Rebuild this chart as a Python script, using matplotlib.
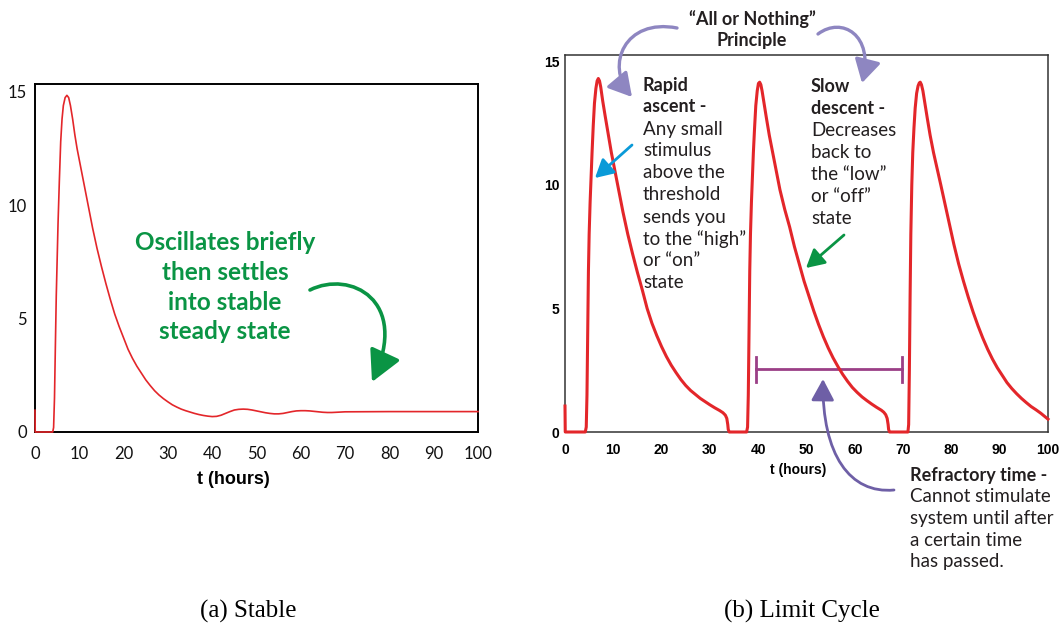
import matplotlib.pyplot as plt
from matplotlib.patches import FancyArrowPatch
from matplotlib.path import Path

# ----------------------------------------------------------
# Data
# ----------------------------------------------------------
t_stable = [0, 0.05, 4.0, 4.2, 4.4, 4.6, 4.8, 5.0, 5.2, 5.5, 5.8, 6.1, 6.4, 6.8, 7.2, 7.6,
            8.0, 8.5, 9.0, 9.5, 10, 11, 12, 13, 14, 15, 16, 17, 18, 19, 20, 21, 22, 23,
            24, 25, 26, 27, 28, 29, 30, 31, 32, 33, 34, 35, 36, 37, 38, 39, 40, 41, 42,
            43, 44, 45, 46, 47, 48, 49, 50, 51, 52, 53, 54, 55, 56, 57, 58, 59, 60, 61,
            62, 63, 64, 65, 66, 67, 68, 69, 70, 80, 100]
y_stable = [0.96, 0, 0, 0.2, 1.5, 3.8, 6.0, 7.6, 9.2, 11.1, 12.8, 13.8, 14.4, 14.75, 14.85,
            14.75, 14.4, 13.8, 13.1, 12.5, 12.0, 11.0, 10.0, 9.0, 8.1, 7.3, 6.55, 5.85,
            5.2, 4.65, 4.15, 3.65, 3.25, 2.9, 2.6, 2.3, 2.05, 1.82, 1.63, 1.47, 1.33,
            1.2, 1.1, 1.01, 0.94, 0.88, 0.82, 0.77, 0.73, 0.7, 0.68, 0.69, 0.74, 0.82,
            0.9, 0.97, 1.0, 1.01, 1.0, 0.97, 0.93, 0.89, 0.85, 0.82, 0.8, 0.8, 0.82,
            0.86, 0.9, 0.93, 0.94, 0.94, 0.93, 0.91, 0.89, 0.87, 0.86, 0.86, 0.87, 0.88,
            0.89, 0.9, 0.9]

t_limit = [0, 0.05,
           # first spike
           4.2, 4.4, 4.55, 4.7, 4.85, 5.0, 5.2, 5.4, 5.6, 5.85, 6.1, 6.4, 6.65, 6.9, 7.15,
           7.4, 7.8, 8.3, 9.0, 9.6, 10.3, 11, 12, 13, 14, 15, 16, 17, 18, 19, 20, 21, 22,
           23, 24, 25, 26, 27, 28, 29, 30, 31, 32, 32.7, 33.2, 33.5, 33.7, 33.8, 34.0,
           # second spike
           37.6, 37.8, 37.95, 38.1, 38.25, 38.4, 38.6, 38.8, 39.0, 39.25, 39.5, 39.8,
           40.05, 40.3, 40.55, 40.8, 41.2, 41.7, 42.3, 43.0, 43.7, 44.5, 45.5, 46.5,
           47.5, 48.5, 49.5, 50.5, 51.5, 52.5, 53.5, 54.5, 55.5, 56.5, 57.5, 58.5, 59.5,
           60.5, 61.5, 62.5, 63.5, 64.5, 65.5, 66.0, 66.4, 66.7, 66.9, 67.0, 67.2,
           # third spike
           71.0, 71.15, 71.3, 71.45, 71.6, 71.8, 72.0, 72.25, 72.5, 72.8, 73.1, 73.35,
           73.55, 73.8, 74.1, 74.5, 75.0, 75.6, 76.3, 77.0, 77.8, 78.7, 79.6, 80.5, 81.5,
           82.5, 83.5, 84.5, 85.5, 86.5, 87.5, 88.5, 89.5, 90.5, 91.5, 92.5, 93.5, 94.5,
           95.5, 96.5, 97.5, 98.5, 99.3, 100]
y_limit = [1.05, 0,
           0, 0.2, 1.5, 4.0, 6.5, 8.0, 9.3, 10.3, 11.3, 12.4, 13.3, 13.9, 14.2, 14.3, 14.2,
           13.95, 13.4, 12.8, 12.0, 11.3, 10.6, 9.9, 8.9, 8.0, 7.2, 6.45, 5.75, 5.0, 4.4,
           3.9, 3.45, 3.05, 2.7, 2.4, 2.12, 1.88, 1.68, 1.52, 1.36, 1.23, 1.1, 0.98, 0.87,
           0.78, 0.68, 0.55, 0.3, 0.1, 0,
           0, 0.2, 1.5, 4.0, 6.5, 8.0, 9.3, 10.3, 11.3, 12.3, 13.2, 13.8,
           14.1, 14.15, 14.05, 13.8, 13.3, 12.7, 12.0, 11.3, 10.6, 9.8, 9.0, 8.3,
           7.5, 6.8, 6.1, 5.5, 4.9, 4.35, 3.85, 3.4, 3.0, 2.65, 2.33, 2.05, 1.8,
           1.6, 1.42, 1.27, 1.13, 1.0, 0.88, 0.8, 0.7, 0.55, 0.3, 0.1, 0,
           0, 0.3, 2.5, 5.5, 8.0, 10.0, 11.3, 12.3, 13.1, 13.7, 14.0, 14.12,
           14.15, 14.05, 13.8, 13.3, 12.7, 12.0, 11.3, 10.7, 10.0, 9.2, 8.4, 7.6, 6.8,
           6.1, 5.45, 4.85, 4.3, 3.8, 3.35, 2.95, 2.6, 2.3, 2.0, 1.76, 1.55, 1.36,
           1.19, 1.03, 0.9, 0.76, 0.63, 0.52]

x_ticks = [0, 10, 20, 30, 40, 50, 60, 70, 80, 90, 100]
y_ticks = [0, 5, 10, 15]

# refractory window marked on the limit cycle panel
refractory_start, refractory_end, refractory_level = 39.6, 69.8, 2.54

W, H = 1060, 626
ANNOT = ['Lato', 'DejaVu Sans']
DARK = '#231f20'
RED = '#e3262a'


def fp(x, y):
    # pixel position (top-left origin) -> figure fraction
    return (x / W, 1 - y / H)


def curved_arrow(pts, color, lw, hl, hw):
    verts = [fp(*p) for p in pts]
    codes = [Path.MOVETO, Path.CURVE4, Path.CURVE4, Path.CURVE4]
    arr = FancyArrowPatch(path=Path(verts, codes), transform=fig.transFigure,
                          arrowstyle=f'-|>,head_length={hl},head_width={hw}',
                          mutation_scale=1, color=color, lw=lw)
    fig.add_artist(arr)


def straight_arrow(p0, p1, color, lw, hl, hw):
    arr = FancyArrowPatch(fp(*p0), fp(*p1), transform=fig.transFigure,
                          arrowstyle=f'-|>,head_length={hl},head_width={hw}',
                          mutation_scale=1, color=color, lw=lw,
                          shrinkA=0, shrinkB=0)
    fig.add_artist(arr)


def text_block(x, y0, step, lines, color=DARK, size=13.5, bold_size=13, ha='left'):
    for i, (txt, weight) in enumerate(lines):
        x_, y_ = fp(x, y0 + i * step)
        fig.text(x_, y_, txt, ha=ha, va='center', color=color,
                 fontsize=bold_size if weight == 'bold' else size,
                 fontweight=weight, family=ANNOT)


fig = plt.figure(figsize=(W / 100, H / 100), dpi=100)

# ==========================================================
# (a) Stable
# ==========================================================
ax_a = fig.add_axes([35 / W, 1 - 432 / H, 443 / W, 348 / H])
ax_a.plot(t_stable, y_stable, color=RED, lw=1.2, solid_joinstyle='round',
          zorder=3, clip_on=False)
ax_a.set_xlim(0, 100)
ax_a.set_ylim(0, 15.35)
ax_a.set_xticks(x_ticks, [str(v) for v in x_ticks], family=ANNOT, fontsize=12)
ax_a.set_yticks(y_ticks, [str(v) for v in y_ticks], family=ANNOT, fontsize=12)
ax_a.tick_params(axis='x', length=0, pad=10, colors='#111111')
ax_a.tick_params(axis='y', length=0, pad=6, colors='#111111')
for s in ax_a.spines.values():
    s.set_linewidth(1.4)
    s.set_color('black')
ax_a.set_xlabel('t (hours)', fontsize=13, fontweight='bold', family='Liberation Sans')
ax_a.xaxis.set_label_coords(0.447, -0.112)

text_block(225, 243, 29.6, [('Oscillates briefly', 'bold'), ('then settles', 'bold'),
                            ('into stable', 'bold'), ('steady state', 'bold')],
           color='#0a9444', bold_size=17.5, ha='center')
curved_arrow([(310, 290), (350, 270), (410, 300), (372, 382)], '#0a9444', 2.6, 19, 10)

# ==========================================================
# (b) Limit Cycle
# ==========================================================
ax_b = fig.add_axes([565 / W, 1 - 432 / H, 483 / W, 377 / H])
ax_b.plot(t_limit, y_limit, color=RED, lw=2.2, solid_joinstyle='round',
          zorder=3, clip_on=False)
ax_b.plot([refractory_start, refractory_end], [refractory_level] * 2, color='#9b3f86', lw=2)
ax_b.plot([refractory_start] * 2, [refractory_level - 0.5, refractory_level + 0.5],
          color='#9b3f86', lw=2)
ax_b.plot([refractory_end] * 2, [refractory_level - 0.5, refractory_level + 0.5],
          color='#9b3f86', lw=2)
ax_b.set_xlim(0, 100)
ax_b.set_ylim(0, 15.25)
ax_b.set_xticks(x_ticks, [str(v) for v in x_ticks], fontsize=10, fontweight='bold',
                family='Liberation Sans')
ax_b.set_yticks(y_ticks, [str(v) for v in y_ticks], fontsize=10, fontweight='bold',
                family='Liberation Sans')
ax_b.tick_params(axis='x', length=0, pad=8)
ax_b.tick_params(axis='y', length=0, pad=4)
for s in ax_b.spines.values():
    s.set_linewidth(1.1)
    s.set_color('#333333')
ax_b.set_xlabel('t (hours)', fontsize=10, fontweight='bold', family='Liberation Sans')
ax_b.xaxis.set_label_coords(0.482, -0.082)

text_block(752, 19, 21.7, [('\u201cAll or Nothing\u201d', 'bold'), ('Principle', 'bold')],
           ha='center')
curved_arrow([(677, 28), (625, 18), (605, 65), (632, 97)], '#8e86c1', 2.4, 14, 8)
curved_arrow([(818, 34), (842, 16), (874, 35), (862, 83)], '#8e86c1', 2.4, 14, 8)

text_block(643, 85, 22, [('Rapid', 'bold'), ('ascent -', 'bold'), ('Any small', 'normal'),
                         ('stimulus', 'normal'), ('above the', 'normal'),
                         ('threshold', 'normal'), ('sends you', 'normal'),
                         ('to the \u201chigh\u201d', 'normal'), ('or \u201con\u201d', 'normal'),
                         ('state', 'normal')])
straight_arrow((632, 145), (595, 178), '#0a9ad8', 2.0, 11, 6)

text_block(811, 87, 22, [('Slow', 'bold'), ('descent -', 'bold'), ('Decreases', 'normal'),
                         ('back to', 'normal'), ('the \u201clow\u201d', 'normal'),
                         ('or \u201coff\u201d', 'normal'), ('state', 'normal')])
straight_arrow((844, 235), (806, 268), '#0a9444', 2.0, 11, 6)

text_block(910, 475, 21.7, [('Refractory time -', 'bold'), ('Cannot stimulate', 'normal'),
                            ('system until after', 'normal'), ('a certain time', 'normal'),
                            ('has passed.', 'normal')])
curved_arrow([(894, 490), (850, 494), (822, 455), (823, 379)], '#6e5fa6', 2.0, 13, 7)

# captions
fig.text(*fp(248, 611), '(a) Stable', ha='center', va='center', fontsize=18,
         family='Liberation Serif')
fig.text(*fp(802, 611), '(b) Limit Cycle', ha='center', va='center', fontsize=18,
         family='Liberation Serif')

fig.savefig('out.png', dpi=100)
